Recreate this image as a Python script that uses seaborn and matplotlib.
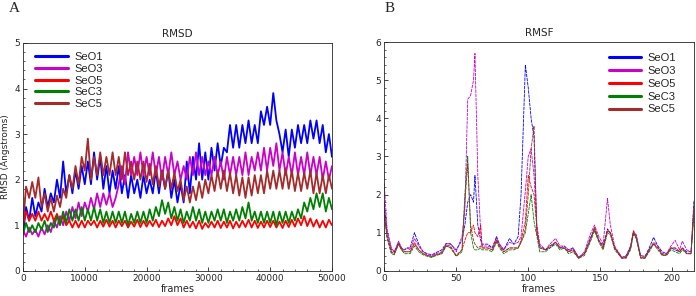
import matplotlib
matplotlib.use("Agg")
import matplotlib.pyplot as plt
from matplotlib.ticker import AutoMinorLocator
import numpy as np
import seaborn as sns

names = ["SeO1", "SeO3", "SeO5", "SeC3", "SeC5"]
colors = ["#0000ff", "#cc00cc", "#ff0000", "#008000", "#a52a2a"]

# RMSD, one value every 500 frames (0 .. 50000)
rmsd_seo1 = [0.8, 1.4, 1.1, 1.6, 1.2, 1.5, 1.3, 1.8, 1.4, 1.7,
             1.5, 2.0, 1.6, 2.4, 1.7, 2.1, 1.7, 2.2, 1.8, 2.3,
             1.9, 2.4, 1.9, 2.6, 2.0, 2.5, 1.8, 2.3, 1.7, 2.2,
             1.8, 2.3, 1.7, 2.1, 1.6, 2.1, 1.7, 2.0, 1.6, 2.1,
             1.7, 2.0, 1.7, 2.2, 1.7, 2.2, 1.8, 2.2, 1.6, 2.0,
             1.5, 1.9, 1.5, 2.4, 1.7, 2.5, 2.0, 2.8, 2.0, 2.6,
             2.0, 2.7, 2.2, 2.8, 2.3, 2.7, 2.6, 3.2, 2.7, 3.2,
             2.7, 3.2, 2.8, 3.3, 2.8, 3.2, 2.8, 3.5, 3.2, 3.6,
             3.2, 3.9, 3.3, 3.0, 2.6, 3.1, 2.5, 3.1, 2.7, 3.2,
             2.8, 3.2, 2.8, 3.3, 2.9, 3.3, 2.8, 3.2, 2.6, 3.0,
             2.5]
rmsd_seo3 = [0.9, 0.75, 0.95, 0.8, 0.9, 0.75, 0.95, 0.8, 1.0, 0.85,
             1.1, 0.95, 1.2, 1.0, 1.3, 1.1, 1.4, 1.15, 1.5, 1.2,
             1.5, 1.3, 1.6, 1.35, 1.7, 1.4, 1.7, 1.45, 1.7, 1.4,
             1.6, 1.9, 2.3, 1.9, 2.6, 2.1, 2.5, 2.1, 2.6, 2.1,
             2.5, 2.1, 2.6, 2.1, 2.5, 2.0, 2.5, 2.1, 2.6, 2.1,
             2.4, 2.0, 2.3, 2.0, 2.5, 2.1, 2.6, 2.1, 2.5, 2.1,
             2.4, 2.1, 2.5, 2.1, 2.4, 2.0, 2.5, 2.1, 2.5, 2.1,
             2.5, 2.1, 2.6, 2.1, 2.5, 2.2, 2.6, 2.2, 2.7, 2.2,
             2.7, 2.3, 2.8, 2.2, 2.6, 2.1, 2.5, 2.1, 2.6, 2.1,
             2.5, 2.1, 2.6, 2.1, 2.5, 2.1, 2.5, 2.0, 2.4, 2.0,
             2.3]
rmsd_seo5 = [1.0, 1.3, 1.1, 1.25, 1.1, 1.3, 1.1, 1.25, 1.1, 1.3,
             1.1, 1.25, 1.05, 1.2, 1.0, 1.1, 0.95, 1.1, 0.95, 1.1,
             0.95, 1.1, 1.0, 1.1, 0.95, 1.1, 0.97, 1.12, 0.97, 1.1,
             0.95, 1.1, 0.98, 1.1, 0.95, 1.08, 0.97, 1.12, 0.96, 1.1,
             0.97, 1.1, 0.98, 1.12, 0.96, 1.1, 0.98, 1.15, 1.0, 1.2,
             1.0, 1.15, 0.95, 1.1, 0.95, 1.08, 0.93, 1.1, 0.92, 1.05,
             0.95, 1.08, 0.95, 1.1, 0.94, 1.08, 0.95, 1.1, 0.93, 1.08,
             0.95, 1.1, 0.96, 1.12, 0.95, 1.1, 0.94, 1.08, 0.95, 1.1,
             0.96, 1.1, 0.95, 1.08, 0.94, 1.1, 0.96, 1.12, 0.97, 1.15,
             1.0, 1.2, 0.98, 1.15, 0.97, 1.12, 0.95, 1.1, 0.95, 1.12,
             1.0]
rmsd_sec3 = [0.8, 1.05, 0.85, 1.0, 0.85, 1.05, 0.9, 1.1, 0.85, 1.05,
             0.95, 1.2, 1.0, 1.3, 1.05, 1.35, 1.1, 1.35, 1.1, 1.4,
             1.1, 1.35, 1.1, 1.4, 1.1, 1.35, 1.05, 1.3, 1.05, 1.3,
             1.05, 1.3, 1.05, 1.3, 1.0, 1.25, 1.05, 1.3, 1.05, 1.3,
             1.05, 1.35, 1.1, 1.4, 1.2, 1.55, 1.25, 1.5, 1.15, 1.4,
             1.1, 1.35, 1.05, 1.3, 1.1, 1.4, 1.1, 1.35, 1.05, 1.3,
             1.05, 1.3, 1.1, 1.35, 1.1, 1.35, 1.05, 1.3, 1.1, 1.35,
             1.1, 1.4, 1.15, 1.5, 1.1, 1.3, 1.05, 1.3, 1.05, 1.3,
             1.05, 1.3, 1.0, 1.3, 1.05, 1.3, 1.05, 1.3, 1.1, 1.35,
             1.15, 1.5, 1.3, 1.6, 1.35, 1.7, 1.4, 1.7, 1.3, 1.6,
             1.35]
rmsd_sec5 = [1.0, 1.85, 1.6, 1.95, 1.6, 2.05, 1.4, 1.7, 1.3, 1.6,
             1.3, 1.65, 1.4, 1.8, 1.6, 2.1, 1.8, 2.3, 1.9, 2.5,
             2.2, 2.9, 2.0, 2.5, 2.1, 2.6, 2.1, 2.5, 2.1, 2.6,
             2.1, 2.5, 2.0, 2.6, 2.1, 2.4, 2.0, 2.4, 2.0, 2.4,
             1.95, 2.35, 1.9, 2.3, 1.85, 2.2, 1.8, 2.2, 1.8, 2.15,
             1.75, 2.0, 1.55, 1.85, 1.5, 1.85, 1.55, 1.95, 1.6, 2.0,
             1.7, 2.1, 1.75, 2.2, 1.8, 2.2, 1.75, 2.15, 1.7, 2.1,
             1.65, 2.05, 1.6, 2.05, 1.65, 2.1, 1.7, 2.1, 1.7, 2.2,
             1.8, 2.2, 1.8, 2.2, 1.8, 2.25, 1.8, 2.2, 1.75, 2.15,
             1.75, 2.15, 1.8, 2.2, 1.7, 2.15, 1.7, 2.1, 1.7, 2.1,
             1.8]

# RMSF, read at these residue positions
residues = [0, 2, 5, 7, 10, 12, 14, 16, 18, 21, 24, 27, 30, 33, 36, 40, 43, 46, 50, 54,
            56, 58, 60, 62, 63, 65, 67, 68, 72, 75, 78, 80, 83, 87, 90, 93, 95, 98, 100, 102,
            104, 106, 108, 112, 115, 119, 122, 125, 128, 131, 135, 139, 143, 146, 149, 152, 155, 157, 160, 165,
            168, 171, 173, 175, 178, 181, 184, 187, 190, 193, 196, 199, 202, 205, 207, 210, 213, 215]
rmsf_seo1 = [1.8, 1.0, 0.55, 0.5, 0.75, 0.6, 0.55, 0.6, 0.6, 1.0,
             0.7, 0.5, 0.45, 0.42, 0.48, 0.55, 0.72, 0.7, 0.55, 0.8,
             1.2, 1.8, 2.0, 1.8, 2.5, 1.2, 0.8, 0.7, 0.7, 0.6,
             0.9, 0.7, 0.55, 0.85, 0.7, 0.9, 2.0, 5.4, 4.8, 4.0,
             3.5, 1.0, 0.65, 0.55, 0.6, 0.75, 0.6, 0.65, 0.55, 0.6,
             0.35, 0.45, 0.85, 1.1, 0.8, 0.65, 1.1, 1.0, 0.6, 0.35,
             0.4, 0.65, 1.0, 0.85, 0.4, 0.38, 0.6, 0.88, 0.65, 0.5,
             0.45, 0.6, 0.55, 0.5, 0.6, 0.5, 0.5, 1.85]
rmsf_seo3 = [2.3, 1.1, 0.6, 0.5, 0.78, 0.6, 0.55, 0.6, 0.55, 0.85,
             0.65, 0.5, 0.42, 0.4, 0.45, 0.5, 0.7, 0.72, 0.5, 0.9,
             1.6, 4.5, 4.6, 5.0, 5.7, 2.5, 1.0, 0.65, 0.65, 0.6,
             0.85, 0.7, 0.55, 0.75, 0.7, 0.75, 0.9, 2.1, 3.0, 3.2,
             2.5, 1.2, 0.7, 0.55, 0.7, 0.85, 0.65, 0.65, 0.5, 0.6,
             0.35, 0.5, 0.95, 1.2, 0.9, 0.7, 1.9, 1.2, 0.65, 0.35,
             0.38, 0.6, 1.0, 0.95, 0.4, 0.35, 0.55, 0.75, 0.65, 0.45,
             0.45, 0.65, 0.8, 0.55, 0.78, 0.55, 0.5, 1.6]
rmsf_seo5 = [1.6, 0.9, 0.5, 0.45, 0.7, 0.55, 0.5, 0.5, 0.5, 0.75,
             0.55, 0.45, 0.4, 0.38, 0.42, 0.45, 0.65, 0.62, 0.4, 0.55,
             0.8, 1.0, 1.0, 1.2, 1.0, 0.9, 1.2, 0.6, 0.6, 0.55,
             0.8, 0.65, 0.5, 0.6, 0.6, 0.6, 0.8, 1.3, 2.5, 2.2,
             2.0, 1.1, 0.6, 0.55, 0.65, 0.75, 0.6, 0.6, 0.5, 0.55,
             0.33, 0.45, 0.8, 1.1, 0.8, 0.6, 1.05, 1.0, 0.6, 0.33,
             0.35, 0.6, 1.05, 0.9, 0.35, 0.33, 0.55, 0.7, 0.6, 0.42,
             0.42, 0.6, 0.6, 0.5, 0.6, 0.45, 0.45, 1.5]
rmsf_sec3 = [1.5, 0.85, 0.45, 0.42, 0.7, 0.55, 0.45, 0.45, 0.45, 0.65,
             0.5, 0.42, 0.38, 0.35, 0.4, 0.45, 0.65, 0.6, 0.38, 0.5,
             2.0, 3.0, 1.0, 0.6, 0.55, 0.55, 0.6, 0.55, 0.55, 0.5,
             0.75, 0.6, 0.45, 0.55, 0.55, 0.6, 0.75, 1.0, 1.5, 2.0,
             1.3, 0.9, 0.5, 0.5, 0.6, 0.7, 0.55, 0.6, 0.45, 0.5,
             0.33, 0.4, 0.75, 1.05, 0.75, 0.55, 1.0, 0.95, 0.55, 0.33,
             0.33, 0.55, 0.95, 0.85, 0.33, 0.33, 0.5, 0.7, 0.55, 0.4,
             0.4, 0.55, 0.5, 0.45, 0.55, 0.45, 0.45, 1.5]
rmsf_sec5 = [1.6, 0.9, 0.48, 0.45, 0.72, 0.58, 0.5, 0.5, 0.5, 0.7,
             0.55, 0.45, 0.4, 0.37, 0.42, 0.48, 0.68, 0.65, 0.4, 0.55,
             1.8, 2.8, 1.2, 0.8, 0.7, 0.6, 0.65, 0.6, 0.6, 0.55,
             0.8, 0.65, 0.5, 0.6, 0.6, 0.6, 0.75, 1.1, 2.0, 3.2,
             3.8, 1.0, 0.6, 0.55, 0.65, 0.75, 0.6, 0.6, 0.5, 0.55,
             0.33, 0.45, 0.8, 1.15, 0.8, 0.6, 1.05, 1.0, 0.6, 0.33,
             0.35, 0.6, 1.05, 0.9, 0.35, 0.33, 0.55, 0.72, 0.6, 0.42,
             0.42, 0.6, 0.6, 0.5, 0.6, 0.45, 0.45, 1.7]

rmsd = [rmsd_seo1, rmsd_seo3, rmsd_seo5, rmsd_sec3, rmsd_sec5]
rmsf = [rmsf_seo1, rmsf_seo3, rmsf_seo5, rmsf_sec3, rmsf_sec5]

sns.set_style("ticks")
plt.rcParams["font.family"] = ["DejaVu Sans"]
plt.rcParams["xtick.direction"] = "in"
plt.rcParams["ytick.direction"] = "in"

fig = plt.figure(figsize=(6.96, 2.96), dpi=100)
ax1 = fig.add_axes([0.033, 0.085, 0.444, 0.77])
ax2 = fig.add_axes([0.552, 0.085, 0.445, 0.773])

for vals, name, c in zip(rmsd, names, colors):
    frames = np.linspace(0, 50000, len(vals))
    sns.lineplot(x=frames, y=vals, ax=ax1, color=c, lw=1.3, label=name)

for vals, name, c in zip(rmsf, names, colors):
    sns.lineplot(x=residues, y=vals, ax=ax2, color=c, lw=0.6, ls=(0, (4, 1)), label=name)

ax1.set_xlim(0, 50000)
ax1.set_ylim(0, 5)
ax1.set_xticks([0, 10000, 20000, 30000, 40000, 50000])
ax1.set_title("RMSD", fontsize=7.5, pad=4)
ax1.set_xlabel("frames", fontsize=7, labelpad=1)
ax1.set_ylabel("RMSD (Angstroms)", fontsize=6.5, labelpad=3)

ax2.set_xlim(0, 215)
ax2.set_ylim(0, 6)
ax2.set_xticks([0, 50, 100, 150, 200])
ax2.set_title("RMSF", fontsize=7.5, pad=4)
ax2.set_xlabel("frames", fontsize=7, labelpad=1)
ax2.set_ylabel("")

for ax in (ax1, ax2):
    ax.tick_params(labelsize=6.5, length=3, width=0.6, pad=2)
    ax.tick_params(which="minor", length=1.5, width=0.5)
    ax.xaxis.set_minor_locator(AutoMinorLocator(5))
    ax.yaxis.set_minor_locator(AutoMinorLocator(5))
    for s in ax.spines.values():
        s.set_linewidth(0.6)

leg_font = {"family": "Liberation Sans", "size": 8}
leg1 = ax1.legend(loc="upper left", bbox_to_anchor=(0.026, 0.978), borderaxespad=0,
                  frameon=False, prop=leg_font, handlelength=2.9, handletextpad=0.6,
                  labelspacing=0.15)
leg2 = ax2.legend(loc="upper right", bbox_to_anchor=(0.955, 0.97), borderaxespad=0,
                  frameon=False, prop=leg_font, handlelength=2.9, handletextpad=0.5,
                  labelspacing=0.25)
for leg in (leg1, leg2):
    for h in leg.get_lines():
        h.set_linewidth(2.2)
        h.set_linestyle("-")

fig.text(0.012, 0.97, "A", fontsize=11, family="Liberation Serif", va="center")
fig.text(0.553, 0.97, "B", fontsize=11, family="Liberation Serif", va="center")

fig.savefig("out.png", dpi=100)
